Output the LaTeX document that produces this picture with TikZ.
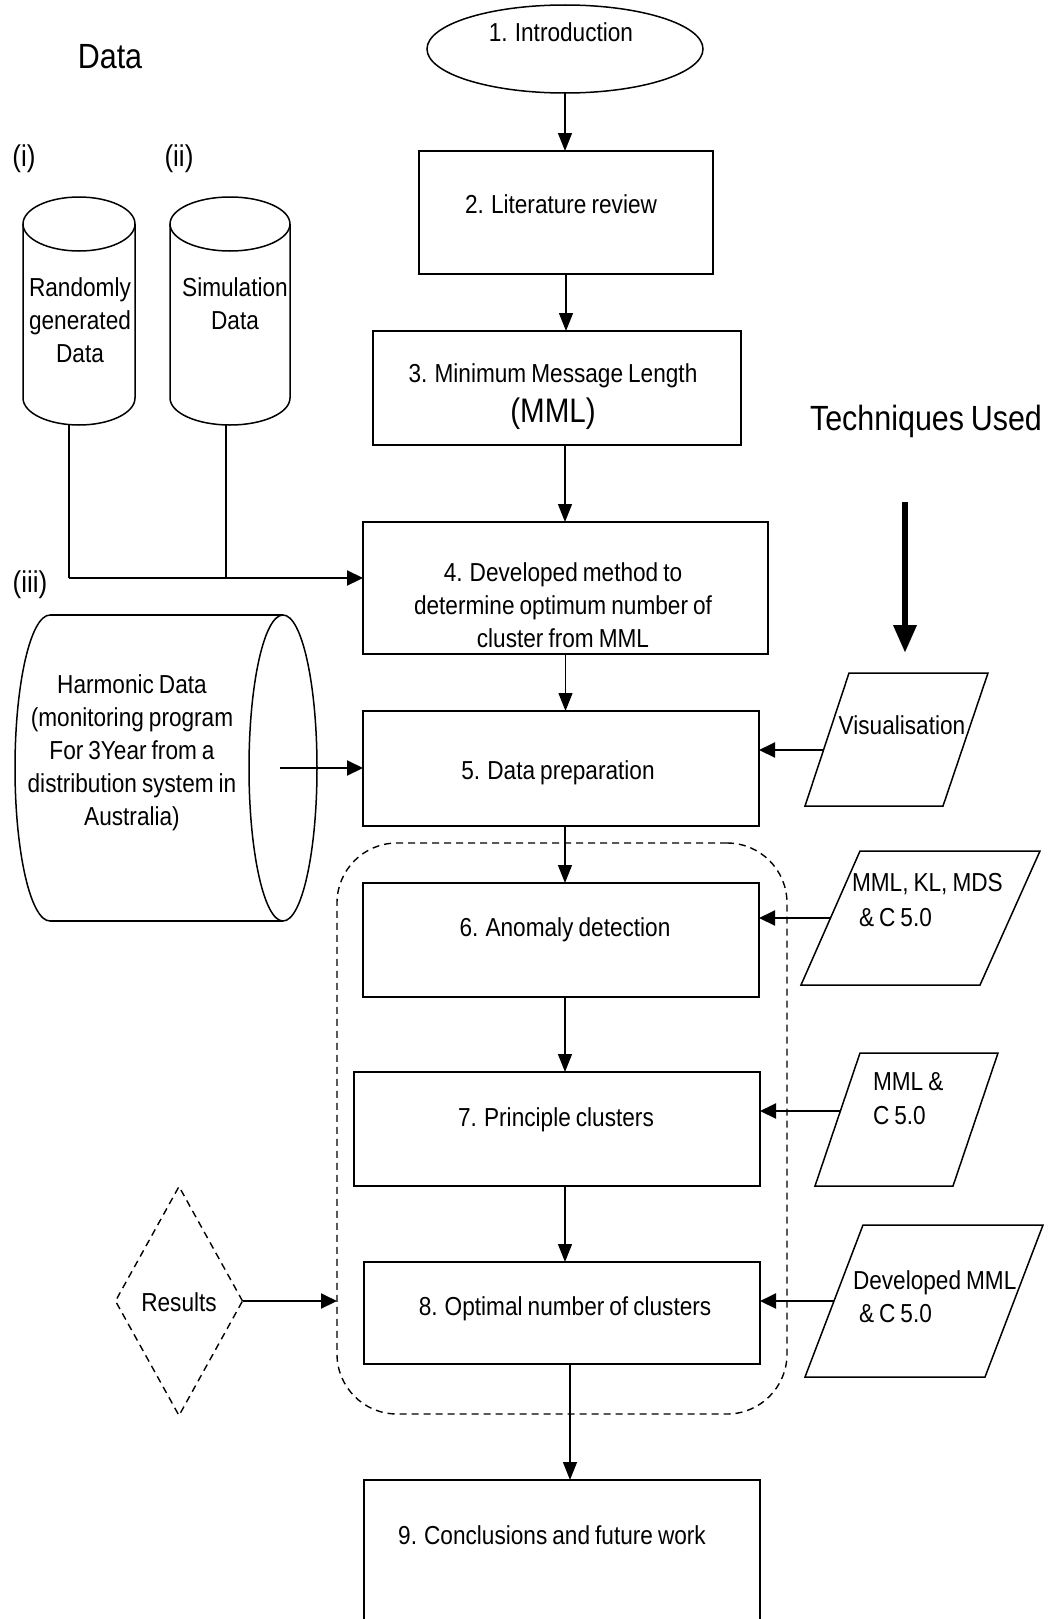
\documentclass[tikz,border=0pt]{standalone}
\usepackage{fontspec}
\setmainfont{Liberation Sans}[FakeStretch=0.87, WordSpace=0.8]
\usetikzlibrary{arrows.meta,shapes.geometric,fit}
\begin{document}
\begin{tikzpicture}[x=1pt,y=-1pt,
  every node/.style={inner sep=0pt, outer sep=0pt},
  body/.style={font=\fontsize{26}{33}\selectfont, align=center},
  bigtxt/.style={font=\fontsize{35}{40}\selectfont, anchor=base},
  tag/.style={font=\fontsize{30}{34}\selectfont, anchor=base},
  stepbox/.style={draw, line width=2pt, inner sep=0pt},
  grpbox/.style={draw, line width=1.4pt, dash pattern=on 7pt off 5pt, rounded corners=60pt, inner sep=0pt},
  outline/.style={line width=1.5pt},
  flow/.style={line width=1.3pt, -{Triangle[length=18pt,width=14pt]}},
  side/.style={line width=2pt, -{Triangle[length=16pt,width=15pt]}},
  feed/.style={line width=2.2pt},
  heavy/.style={line width=6.5pt, -{Triangle[length=28pt,width=22pt]}},
]
\useasboundingbox (0,0) rectangle (1047,1619);
\clip (0,0) rectangle (1047,1619);

% ---------- headings ----------
\node[bigtxt] (hdata) at (110,68) {Data};
\node[bigtxt] (htech) at (926,430) {Techniques Used};
\node[tag] (ti) at (24,166) {(i)};
\node[tag] (tii) at (179,166) {(ii)};
\node[tag] (tiii) at (30,592) {(iii)};

% ---------- main flow ----------
\node[draw, ellipse, line width=1.5pt, minimum width=276pt, minimum height=88pt] (b1) at (565,49) {};
\node[body, anchor=base] (t1) at (561,42) {1. Introduction};

\node[stepbox, fit={(419,151)(713,274)}] (b2) {};
\node[body, anchor=base] (t2) at (561,213) {2. Literature review};

\node[stepbox, fit={(373,331)(741,445)}] (b3) {};
\node[body, anchor=base] (t3) at (553,382) {3. Minimum Message Length};
\node[bigtxt, font=\fontsize{34}{38}\selectfont] (t3b) at (553,422) {(MML)};

\node[stepbox, fit={(363,522)(768,654)}] (b4) {};
\node[body] (t4) at (563,605) {4. Developed method to\\determine optimum number of\\cluster from MML};

\node[stepbox, fit={(363,711)(759,826)}] (b5) {};
\node[body, anchor=base] (t5) at (558,779) {5. Data preparation};

\node[stepbox, fit={(363,883)(759,997)}] (b6) {};
\node[body, anchor=base] (t6) at (565,936) {6. Anomaly detection};

\node[stepbox, fit={(354,1072)(760,1186)}] (b7) {};
\node[body, anchor=base] (t7) at (556,1126) {7. Principle clusters};

\node[stepbox, fit={(364,1262)(760,1364)}] (b8) {};
\node[body, anchor=base] (t8) at (565,1315) {8. Optimal number of clusters};

\node[stepbox, fit={(364,1480)(760,1640)}] (b9) {};
\node[body, anchor=base] (t9) at (552,1544) {9. Conclusions and future work};

% dashed group around steps 6--8
\node[grpbox, fit={(337,843)(787,1414)}] (grp) {};

% vertical connectors
\coordinate (a3) at ([xshift=8pt]b3.south);
\coordinate (a5) at ([xshift=4pt]b5.south);
\coordinate (a6) at ([xshift=4pt]b6.south);
\coordinate (a7) at ([xshift=8pt]b7.south);
\coordinate (a8) at ([xshift=8pt]b8.south);
\draw[flow] (b1.south) -- (b1.south |- b2.north);
\draw[flow] (b2.south) -- (b2.south |- b3.north);
\draw[flow] (a3) -- (a3 |- b4.north);
\draw[flow] (b4.south) -- (b4.south |- b5.north);
\draw[flow] (a5) -- (a5 |- b6.north);
\draw[flow] (a6) -- (a6 |- b7.north);
\draw[flow] (a7) -- (a7 |- b8.north);
\draw[flow] (a8) -- (a8 |- b9.north);

% ---------- data sources ----------
% (i) randomly generated data
\draw[outline] (23,224) -- (23,398) arc[start angle=180, end angle=360, x radius=56pt, y radius=27pt] -- (135,224);
\draw[outline] (79,224) ellipse [x radius=56pt, y radius=27pt];
\node[body] (tc1) at (80,320) {Randomly\\generated\\Data};
% (ii) simulation data
\draw[outline] (170,224) -- (170,398) arc[start angle=180, end angle=360, x radius=60pt, y radius=27pt] -- (290,224);
\draw[outline] (230,224) ellipse [x radius=60pt, y radius=27pt];
\node[body] (tc2) at (235,304) {Simulation\\Data};
% (iii) harmonic data, lying cylinder
\draw[outline] (50,615) -- (283,615);
\draw[outline] (50,921) -- (283,921);
\draw[outline] (283,768) ellipse [x radius=34pt, y radius=153pt];
\draw[outline] (50,921) arc[start angle=-90, end angle=-270, x radius=35pt, y radius=153pt];
\node[body] (tc3) at (132,753) {Harmonic Data\\(monitoring program\\For 3Year from a\\distribution system in\\Australia)};

% data connectors
\coordinate (dA) at (69,425);
\coordinate (dB) at (226,425);
\coordinate (dJ) at (69,578);
\coordinate (hA) at (280,768);
\draw[feed] (dA) -- (dJ);
\draw[line width=1.2pt] (dB) -- (dB |- dJ);
\draw[side, line width=2.2pt] (dJ) -- (dJ -| b4.west);
\draw[side] (hA) -- (hA -| b5.west);

% ---------- techniques ----------
\coordinate (tA) at (905,502);
\coordinate (tB) at (905,653);
\draw[heavy] (tA) -- (tB);

\draw[outline] (849,673) -- (988,673) -- (943,806) -- (805,806) -- cycle;
\node[body, anchor=base] (tp5) at (902,734) {Visualisation};

\draw[outline] (860,851) -- (1040,851) -- (980,985) -- (801,985) -- cycle;
\node[body, align=left, anchor=north west, font=\fontsize{26}{35}\selectfont] (tp6) at (852,873) {MML, KL, MDS\\\hspace*{7pt}\& C 5.0};

\draw[outline] (860,1053) -- (998,1053) -- (953,1186) -- (815,1186) -- cycle;
\node[body, align=left, anchor=north west, font=\fontsize{26}{34}\selectfont] (tp7) at (873,1072) {MML \&\\C 5.0};

\draw[outline] (863,1225) -- (1043,1225) -- (985,1377) -- (805,1377) -- cycle;
\node[body, align=left, anchor=north west] (tp8) at (853,1271) {Developed MML\\\hspace*{6pt}\& C 5.0};

\coordinate (pv) at (823.5,750);
\coordinate (pk) at (830.5,918);
\coordinate (pm) at (840,1111);
\coordinate (pd) at (834,1301);
\draw[side] (pv) -- (pv -| b5.east);
\draw[side] (pk) -- (pk -| b6.east);
\draw[side] (pm) -- (pm -| b7.east);
\draw[side] (pd) -- (pd -| b8.east);

% ---------- results ----------
\node[draw, diamond, line width=1.4pt, dash pattern=on 7pt off 5pt, minimum width=127pt, minimum height=229pt] (res) at (179,1301) {};
\node[body, anchor=base] (trs) at (179,1311) {Results};
\draw[side] (res.east) -- (res.east -| grp.west);
\end{tikzpicture}
\end{document}
